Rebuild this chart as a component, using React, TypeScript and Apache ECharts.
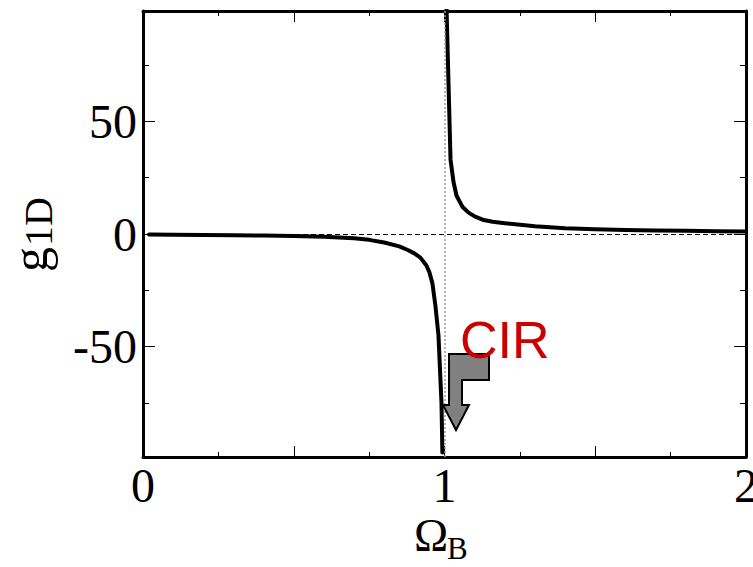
import React, { useEffect, useRef } from "react";
import * as echarts from "echarts";

// Coupling strength g_1D versus Omega_B, split at the resonance Omega_B = 1
const leftBranch: [number, number][] = [
  [0.02, -0.2], [0.1, -0.3], [0.2, -0.4], [0.3, -0.5], [0.4, -0.7],
  [0.5, -0.9], [0.6, -1.2], [0.65, -1.5], [0.7, -1.9], [0.75, -2.6],
  [0.8, -3.8], [0.85, -5.5], [0.88, -7.2], [0.9, -8.6], [0.92, -10.5],
  [0.94, -14], [0.95, -17], [0.96, -22], [0.97, -32], [0.98, -45],
  [0.985, -60], [0.99, -75], [0.993, -97],
];
const rightBranch: [number, number][] = [
  [1.006, 104], [1.02, 33], [1.03, 23], [1.04, 17], [1.05, 14.5],
  [1.06, 12], [1.08, 9.5], [1.1, 7.8], [1.13, 6.2], [1.16, 5.4],
  [1.2, 4.8], [1.3, 3.4], [1.4, 2.6], [1.5, 2.1], [1.6, 1.8],
  [1.7, 1.6], [1.8, 1.4], [1.9, 1.2], [2.0, 1.1],
];

const xMin = 0;
const xMax = 2;
const xStep = 0.5;
const yMin = -99;
const yMax = 99;
const yMajorTicks = [-50, 0, 50];
const yMinorTicks = [-75, -25, 25, 75];
const resonanceX = 1;
const baselineY = 0;

const SERIF = "'Liberation Serif', 'Times New Roman', serif";
const SANS = "'Liberation Sans', Arial, sans-serif";

export default function App() {
  const ref = useRef<HTMLDivElement>(null);

  useEffect(() => {
    if (!ref.current) return;
    const chart = echarts.init(ref.current, null, { renderer: "svg" });

    const frame = { show: true, onZero: false, lineStyle: { color: "#000", width: 3 } };
    const xAxisBase = {
      type: "value",
      min: xMin,
      max: xMax,
      interval: xStep,
      axisLine: frame,
      axisTick: { show: true, inside: true, length: 11, lineStyle: { color: "#000", width: 1 } },
      minorTick: { show: true, splitNumber: 2, length: 5, lineStyle: { color: "#000", width: 1 } },
      splitLine: { show: false },
      minorSplitLine: { show: false },
    };
    const yAxisBase = (position: "left" | "right", ticks: number[], len: number, withLine: boolean, withLabels: boolean) => ({
      type: "value",
      min: yMin,
      max: yMax,
      position,
      axisLine: withLine ? frame : { show: false, onZero: false },
      axisTick: { show: true, inside: true, length: len, customValues: ticks, lineStyle: { color: "#000", width: 1 } },
      axisLabel: withLabels
        ? { show: true, customValues: ticks, fontFamily: SERIF, fontSize: 48, color: "#000", margin: 6 }
        : { show: false },
      splitLine: { show: false },
    });

    chart.setOption({
      animation: false,
      backgroundColor: "#fff",
      grid: { left: 143, right: 7, top: 11, bottom: 110, containLabel: false, outerBoundsMode: "none" },
      xAxis: [
        {
          ...xAxisBase,
          position: "bottom",
          axisLabel: {
            show: true,
            fontFamily: SERIF,
            fontSize: 48,
            color: "#000",
            margin: 4,
            formatter: (v: number) => (Number.isInteger(v) ? String(v) : ""),
          },
        },
        { ...xAxisBase, position: "top", axisLabel: { show: false } },
      ],
      yAxis: [
        yAxisBase("left", yMajorTicks, 12, true, true),
        yAxisBase("left", yMinorTicks, 6, false, false),
        yAxisBase("right", yMajorTicks, 12, true, false),
        yAxisBase("right", yMinorTicks, 6, false, false),
      ],
      series: [
        {
          type: "line",
          data: [],
          z: 1,
          silent: true,
          markLine: {
            silent: true,
            symbol: ["none", "none"],
            label: { show: false },
            data: [
              { xAxis: resonanceX, lineStyle: { type: [2, 2], color: "#9a9a9a", width: 1.5 } },
              { yAxis: baselineY, lineStyle: { type: [5, 3], color: "#000", width: 1 } },
            ],
          },
        },
        {
          type: "line",
          data: leftBranch,
          showSymbol: false,
          z: 3,
          lineStyle: { color: "#000", width: 4, cap: "round", join: "round" },
        },
        {
          type: "line",
          data: rightBranch,
          showSymbol: false,
          z: 3,
          lineStyle: { color: "#000", width: 4, cap: "round", join: "round" },
        },
      ],
      graphic: [
        {
          type: "polygon",
          z: 10,
          shape: {
            points: [
              [449, 354], [489, 354], [489, 380], [462, 380], [462, 405],
              [469, 405], [456, 430], [443, 405], [449, 405],
            ],
          },
          style: { fill: "#808080", stroke: "#000", lineWidth: 2 },
        },
        {
          type: "text",
          z: 10,
          x: 460,
          y: 340,
          style: { text: "CIR", fill: "#cc0000", fontFamily: SANS, fontSize: 52, align: "left", verticalAlign: "middle" },
        },
        {
          type: "text",
          z: 10,
          x: 431,
          y: 535,
          style: { text: "Ω", fill: "#000", fontFamily: SERIF, fontSize: 46, align: "center", verticalAlign: "middle" },
        },
        {
          type: "text",
          z: 10,
          x: 447,
          y: 548,
          style: { text: "B", fill: "#000", fontFamily: SERIF, fontSize: 31, align: "left", verticalAlign: "middle" },
        },
        {
          type: "group",
          x: 30,
          y: 234,
          rotation: Math.PI / 2,
          children: [
            {
              type: "text",
              x: -38,
              y: 0,
              style: { text: "g", fill: "#000", fontFamily: SERIF, fontSize: 50, align: "left", verticalAlign: "middle" },
            },
            {
              type: "text",
              x: -12,
              y: 8,
              style: { text: "1D", fill: "#000", fontFamily: SERIF, fontSize: 40, align: "left", verticalAlign: "middle" },
            },
          ],
        },
      ],
    });

    return () => chart.dispose();
  }, []);

  return (
    <div
      ref={ref}
      style={{ position: "fixed", left: 0, top: 0, width: 753, height: 567, background: "#fff" }}
    />
  );
}
